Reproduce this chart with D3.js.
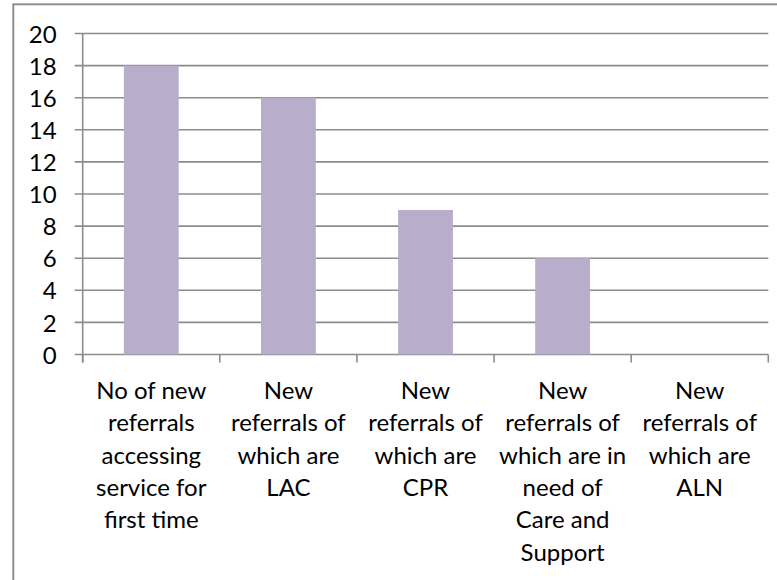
<!DOCTYPE html>
<html>
<head>
<meta charset="utf-8">
<script src="https://cdn.jsdelivr.net/npm/d3@7"></script>
<style>
  body { margin: 0; background: #fff; }
  text { font-family: Lato, "Open Sans", sans-serif; fill: #000; }
</style>
</head>
<body>
<div class="chart"></div>
<script>
// data
var categories = ['cat1', 'cat2', 'cat3', 'cat4', 'cat5']
var categoryLines = [
  ['No of new', 'referrals', 'accessing', 'service for', 'first time'],
  ['New', 'referrals of', 'which are', 'LAC'],
  ['New', 'referrals of', 'which are', 'CPR'],
  ['New', 'referrals of', 'which are in', 'need of', 'Care and', 'Support'],
  ['New', 'referrals of', 'which are', 'ALN']
]
var values = [18, 16, 9, 6, 0]
var yTicks = [0, 2, 4, 6, 8, 10, 12, 14, 16, 18, 20]

var W = 777, H = 580
var margin = {top: 33.5, left: 82.7, right: 8.7},
    width = W - margin.left - margin.right,
    height = 354.5 - margin.top

var svg = d3.select('.chart').append('svg')
    .attr('width', W)
    .attr('height', H)

// outer chart frame (right and bottom run off the picture)
svg.append('rect')
    .attr('x', 13.3).attr('y', 4.3)
    .attr('width', 800).attr('height', 700)
    .attr('fill', 'none')
    .attr('stroke', '#8f8f8f')
    .attr('stroke-width', 2)

var g = svg.append('g')
    .attr('transform', 'translate(' + margin.left + ',' + margin.top + ')')

var x = d3.scaleBand()
    .domain(categories)
    .range([0, width])
    .paddingInner(0.6)
    .paddingOuter(0.3)

var y = d3.scaleLinear()
    .domain([0, 20])
    .range([height, 0])

// gridlines
g.append('g')
    .selectAll('line')
    .data(yTicks)
    .enter().append('line')
    .attr('x1', -8).attr('x2', width)
    .attr('y1', function(d) { return y(d) })
    .attr('y2', function(d) { return y(d) })
    .attr('stroke', '#8c8c8c')
    .attr('stroke-width', 1.6)

// y axis labels
var yAxis = g.append('g')
    .call(d3.axisLeft(y).tickValues(yTicks).tickSize(0).tickPadding(26))
yAxis.select('.domain').remove()
yAxis.selectAll('text')
    .style('font-size', '24px')
    .attr('dy', '0.36em')
    .attr('fill', '#000')

// bars
g.selectAll('.bar')
    .data(values)
    .enter().append('rect')
    .attr('class', 'bar')
    .attr('x', function(d, i) { return x(categories[i]) })
    .attr('width', x.bandwidth())
    .attr('y', function(d) { return y(d) })
    .attr('height', function(d) { return height - y(d) })
    .attr('fill', '#b8aecb')

// y axis line
g.append('line')
    .attr('x1', 0).attr('x2', 0)
    .attr('y1', 0).attr('y2', height + 8)
    .attr('stroke', '#8c8c8c')
    .attr('stroke-width', 1.6)

// category boundary ticks
var bounds = d3.range(categories.length + 1).map(function(i) { return i * x.step() })
g.selectAll('.ctick')
    .data(bounds)
    .enter().append('line')
    .attr('class', 'ctick')
    .attr('x1', function(d) { return d }).attr('x2', function(d) { return d })
    .attr('y1', height).attr('y2', height + 8)
    .attr('stroke', '#8c8c8c')
    .attr('stroke-width', 1.6)

// category labels
var labels = g.selectAll('.clabel')
    .data(categoryLines)
    .enter().append('text')
    .attr('class', 'clabel')
    .attr('text-anchor', 'middle')
    .style('font-size', '24px')
    .attr('transform', function(d, i) {
      return 'translate(' + (x(categories[i]) + x.bandwidth() / 2) + ',' + (399 - margin.top) + ')'
    })

labels.selectAll('tspan')
    .data(function(d) { return d })
    .enter().append('tspan')
    .attr('x', 0)
    .attr('y', function(d, i) { return i * 32.3 })
    .text(function(d) { return d })
</script>
</body>
</html>
